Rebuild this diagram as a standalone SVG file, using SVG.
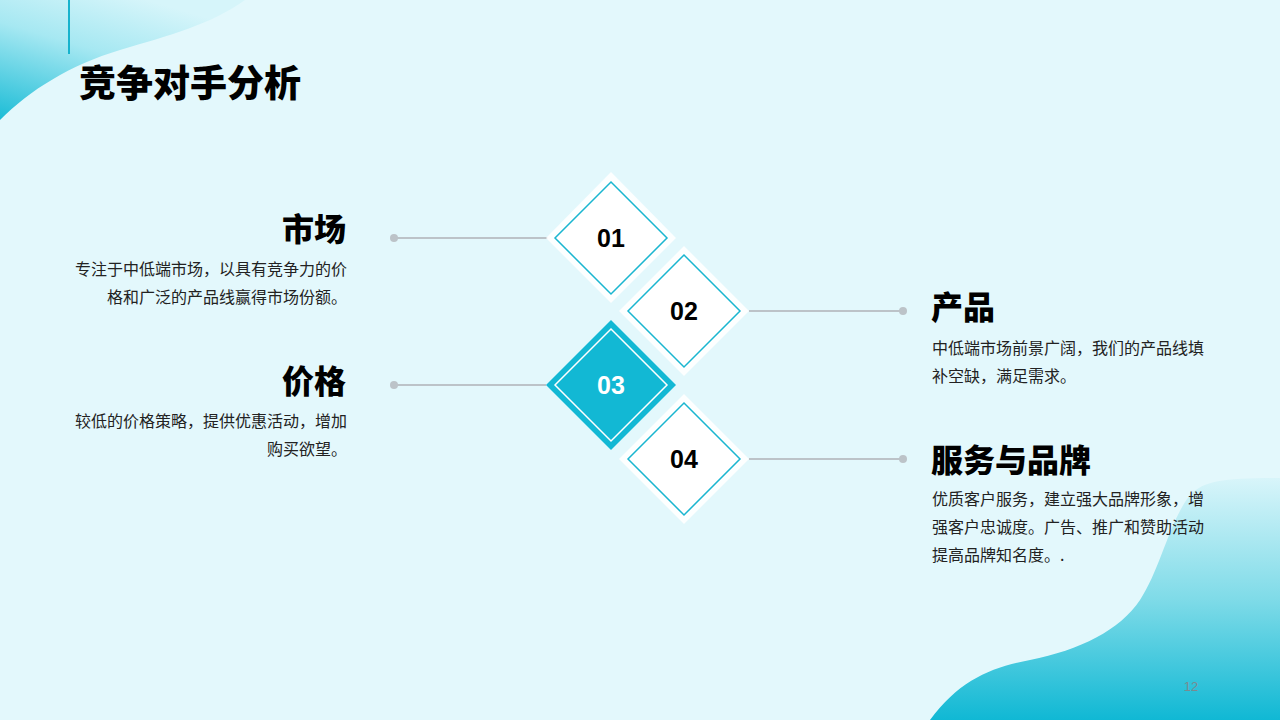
<svg xmlns="http://www.w3.org/2000/svg" width="1280" height="720" viewBox="0 0 1280 720">
<defs>
<linearGradient id="gTL" x1="0" y1="1" x2="0.6" y2="0">
<stop offset="0" stop-color="#1bbcd6"/>
<stop offset="0.6" stop-color="#a6e8f2"/>
<stop offset="1" stop-color="#d6f5fa"/>
</linearGradient>
<linearGradient id="gBR" x1="0" y1="0" x2="0" y2="1">
<stop offset="0" stop-color="#d8f5fa"/>
<stop offset="0.5" stop-color="#7fdbe8"/>
<stop offset="1" stop-color="#10b8d4"/>
</linearGradient>
<style>
.h{font-family:"Noto Sans CJK SC","Liberation Sans",sans-serif;font-weight:900;font-size:32px;fill:#000}
.d{font-family:"Noto Sans CJK SC","Liberation Sans",sans-serif;font-size:16px;fill:#222}
.n{font-family:"Liberation Sans",Arial,sans-serif;font-weight:700;font-size:25px;text-anchor:middle}
.ln{stroke:#bcc3c8;stroke-width:2;fill:none}
.dot{fill:#bcc3c8}
.outer{fill:#fff;opacity:0.9}
.inner{fill:#fff;stroke:#1ab6d0;stroke-width:1.5}
</style>
</defs>
<rect width="1280" height="720" fill="#e3f8fc"/>
<path d="M0,0 L245,0 C210,25 170,35 120,50 C70,65 30,90 0,120 Z" fill="url(#gTL)"/>
<path d="M930,720 C960,680 990,668 1030,660 C1080,650 1120,630 1140,600 C1160,570 1170,520 1190,495 C1205,480 1225,478 1280,478 L1280,720 Z" fill="url(#gBR)"/>
<line x1="69" y1="0" x2="69" y2="54" stroke="#17b3cd" stroke-width="2"/>
<text x="79" y="97" font-family="Noto Sans CJK SC,Liberation Sans,sans-serif" font-weight="900" font-size="37" fill="#000">竞争对手分析</text>
<g id="connectors">
<line class="ln" x1="394" y1="238" x2="548" y2="238"/><circle class="dot" cx="394" cy="238" r="4"/>
<line class="ln" x1="749" y1="311" x2="903" y2="311"/><circle class="dot" cx="903" cy="311" r="4"/>
<line class="ln" x1="394" y1="385" x2="546" y2="385"/><circle class="dot" cx="394" cy="385" r="4"/>
<line class="ln" x1="749" y1="459" x2="903" y2="459"/><circle class="dot" cx="903" cy="459" r="4"/>
</g>
<g id="node01">
<polygon class="outer" points="611,172 676,238 611,303 546,238"/>
<polygon class="inner" points="611,182 667,238 611,294 555,238"/>
<text class="n" x="611" y="247" fill="#000">01</text>
</g>
<g id="node02">
<polygon class="outer" points="684,246 749,311 684,376 619,311"/>
<polygon class="inner" points="684,255 740,311 684,367 628,311"/>
<text class="n" x="684" y="320" fill="#000">02</text>
</g>
<g id="node03">
<polygon points="611,320 676,385 611,450 546,385" fill="#12b8d4"/>
<polygon points="611,329 667,385 611,441 555,385" fill="none" stroke="#fff" stroke-width="1.5"/>
<text class="n" x="611" y="394" fill="#fff">03</text>
</g>
<g id="node04">
<polygon class="outer" points="684,394 749,459 684,524 619,459"/>
<polygon class="inner" points="684,403 740,459 684,515 628,459"/>
<text class="n" x="684" y="468" fill="#000">04</text>
</g>
<g id="t01" text-anchor="end">
<text class="h" x="346" y="241">市场</text>
<text class="d" x="347" y="275">专注于中低端市场，以具有竞争力的价</text>
<text class="d" x="347" y="303">格和广泛的产品线赢得市场份额。</text>
</g>
<g id="t03" text-anchor="end">
<text class="h" x="346" y="393">价格</text>
<text class="d" x="347" y="427">较低的价格策略，提供优惠活动，增加</text>
<text class="d" x="347" y="455">购买欲望。</text>
</g>
<g id="t02">
<text class="h" x="931" y="319">产品</text>
<text class="d" x="932" y="354">中低端市场前景广阔，我们的产品线填</text>
<text class="d" x="932" y="382">补空缺，满足需求。</text>
</g>
<g id="t04">
<text class="h" x="931" y="472">服务与品牌</text>
<text class="d" x="932" y="505">优质客户服务，建立强大品牌形象，增</text>
<text class="d" x="932" y="533">强客户忠诚度。广告、推广和赞助活动</text>
<text class="d" x="932" y="561">提高品牌知名度。.</text>
</g>
<text x="1191" y="691" font-family="Liberation Sans,Arial,sans-serif" font-size="13" fill="#7a8a90" text-anchor="middle">12</text>
</svg>
